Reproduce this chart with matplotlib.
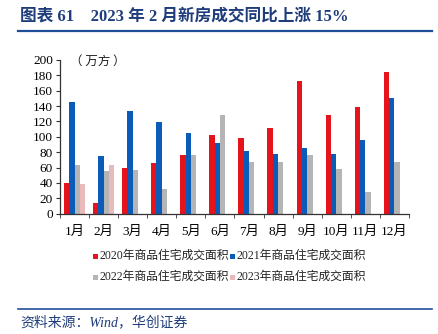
import matplotlib
matplotlib.use("Agg")
import matplotlib.pyplot as plt
import numpy as np
from matplotlib.lines import Line2D
from matplotlib.patches import Rectangle

months = ["1月", "2月", "3月", "4月", "5月", "6月", "7月", "8月", "9月", "10月", "11月", "12月"]
s2020 = [40, 14, 60, 66, 77, 103, 98, 111, 173, 129, 139, 184]
s2021 = [145, 75, 133, 119, 105, 92, 81, 78, 85, 78, 96, 151]
s2022 = [63, 55, 57, 32, 77, 129, 67, 67, 76, 58, 28, 67]
s2023 = [38, 63] + [np.nan] * 10
labels = ["2020年商品住宅成交面积", "2021年商品住宅成交面积",
          "2022年商品住宅成交面积", "2023年商品住宅成交面积"]
colors = ["#E5131B", "#0B5CB8", "#B5B5B5", "#E8BABA"]
yticks = [0, 20, 40, 60, 80, 100, 120, 140, 160, 180, 200]

FONT = ["Liberation Serif", "Noto Sans CJK SC"]
plt.rcParams["font.family"] = FONT

fig = plt.figure(figsize=(4.39, 3.34), dpi=100)
W, H = 439, 334
ax = fig.add_axes([60 / W, 1 - 213.7 / H, 349 / W, 153.7 / H])

x = np.arange(len(months))
bw = 0.183
series = [s2020, s2021, s2022, s2023]
for i, (s, c) in enumerate(zip(series, colors)):
    ax.bar(x + (i - 1.5) * bw, s, width=bw, color=c, linewidth=0)

ax.set_xlim(-0.5, len(months) - 0.5)
ax.set_ylim(0, 200)
ax.set_yticks(yticks)
ax.set_yticklabels([str(v) for v in yticks], fontsize=9.5)
ax.set_xticks(x)
ax.set_xticklabels(months, fontsize=9.5)
ax.tick_params(axis="x", length=0, pad=9)
ax.set_xticks(np.arange(-0.5, len(months), 1), minor=True)
ax.tick_params(axis="x", which="minor", length=3, direction="out", color="#333333")
ax.tick_params(axis="y", length=3, direction="out", color="#333333", pad=2)
for sp in ["top", "right"]:
    ax.spines[sp].set_visible(False)
for sp in ["left", "bottom"]:
    ax.spines[sp].set_color("#333333")
    ax.spines[sp].set_linewidth(0.9)

fig.text(70 / W, 1 - 61 / H, "（ 万方 ）", fontsize=9, family=["Noto Sans CJK SC"],
         ha="left", va="center", color="#222222")

# title
fig.text(20 / W, 1 - 16 / H, "图表 61    2023 年 2 月新房成交同比上涨 15%",
         fontsize=12, fontweight="bold", color="#1F3D7A", ha="left", va="center",
         family=["Liberation Serif", "Noto Sans CJK SC"])
fig.add_artist(Line2D([18 / W, 432 / W], [1 - 30.5 / H, 1 - 30.5 / H],
                      color="#1F4E99", linewidth=1.6, transform=fig.transFigure))
fig.add_artist(Line2D([18 / W, 432 / W], [1 - 308.5 / H, 1 - 308.5 / H],
                      color="#1F4E99", linewidth=1.2, transform=fig.transFigure))
fig.text(20 / W, 1 - 322 / H, "资料来源：Wind，华创证券", fontsize=10, style="italic",
         color="#1F3D7A", ha="left", va="center",
         family=["Liberation Serif", "Noto Sans CJK SC"])

# legend (2 rows)
pos = [(93, 256), (230, 256), (93, 277), (230, 277)]
for (px, py), lab, c in zip(pos, labels, colors):
    fig.add_artist(Rectangle((px / W, 1 - (py + 2.5) / H), 5 / W, 5 / H,
                             color=c, transform=fig.transFigure, linewidth=0))
    fig.text((px + 7) / W, 1 - py / H, lab, fontsize=8.5, ha="left", va="center",
             color="#222222")

fig.savefig("out.png", dpi=100)
